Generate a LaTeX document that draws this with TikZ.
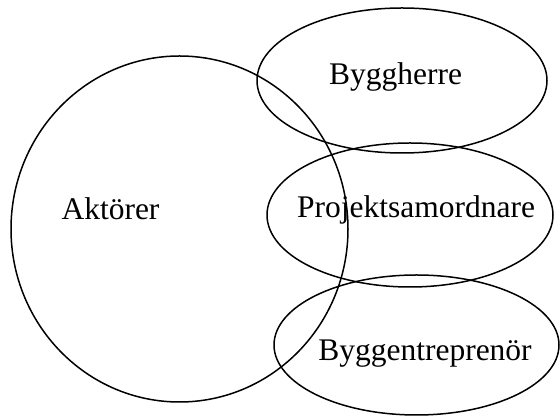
\documentclass[tikz,border=0pt]{standalone}
\usepackage{fontspec}
\setmainfont{Liberation Serif}
\usetikzlibrary{shapes.geometric}

\begin{document}
\begin{tikzpicture}[x=1pt,y=1pt,
      ring/.style={ellipse,draw=black,line width=1.5pt,inner sep=0pt},
      lbl/.style={anchor=base,inner sep=0pt,font=\fontsize{31.5}{36}\selectfont}]
    \useasboundingbox (0,0) rectangle (560,417);
    \node[ring,minimum width=337pt,minimum height=346pt](akt) at (179.5,188){};
    \node[ring,minimum width=290pt,minimum height=145pt](bh) at (402,336.5){};
    \node[ring,minimum width=286pt,minimum height=144pt](ps) at (410,202){};
    \node[ring,minimum width=285pt,minimum height=140pt](be) at (416.5,72){};
    \node[lbl](taktor) at (110.5,197){Aktörer};
    \node[lbl](tbh) at (395.5,332.7){Byggherre};
    \node[lbl](tps) at (416,199.3){Projektsamordnare};
    \node[lbl](tbe) at (425,56.3){Byggentreprenör};
  \end{tikzpicture}
\end{document}
